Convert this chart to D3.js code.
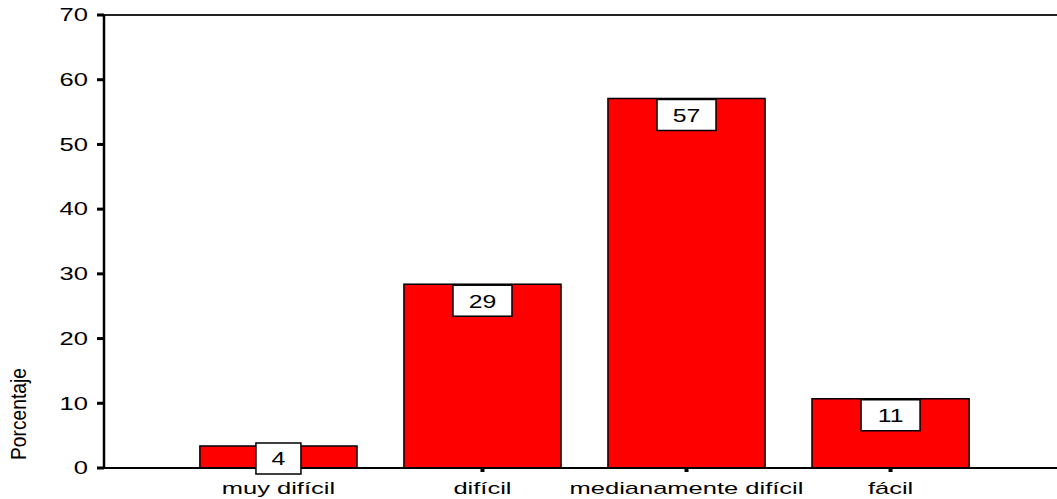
<!DOCTYPE html>
<html><head><meta charset="utf-8">
<script src="https://cdn.jsdelivr.net/npm/d3@7"></script>
<style>body{margin:0;background:#fff}svg{display:block}text{font-family:"Liberation Sans",Arial,sans-serif;fill:#000}</style>
</head><body><svg id="c" width="1057" height="499"></svg>
<script>
const categories = ["muy difícil", "difícil", "medianamente difícil", "fácil"];
const values = [3.4, 28.4, 57.1, 10.7];
const labels = ["4", "29", "57", "11"];
const yTicks = [0, 10, 20, 30, 40, 50, 60, 70];
const yTitle = "Porcentaje";

const svg = d3.select("#c");
const x0 = 104, yTop = 15, yBase = 468;
const y = d3.scaleLinear().domain([0, 70]).range([yBase, yTop]);
const x = d3.scaleBand().domain(categories).range([x0, 1065]).paddingInner(0.23).paddingOuter(0.47);

function stretch(sel, f){
  sel.each(function(){
    const w = this.getComputedTextLength();
    d3.select(this).attr("textLength", w*f).attr("lengthAdjust","spacingAndGlyphs");
  });
}

// bars
svg.selectAll("rect.bar").data(values).join("rect").attr("class","bar")
  .attr("x",(d,i)=>x(categories[i])).attr("width",x.bandwidth())
  .attr("y",d=>y(d)).attr("height",d=>yBase-y(d))
  .attr("fill","#ff0000").attr("stroke","#000").attr("stroke-width",1.5);

// frame lines
svg.append("line").attr("x1",x0).attr("x2",1057).attr("y1",yTop).attr("y2",yTop).attr("stroke","#222").attr("stroke-width",2);
svg.append("line").attr("x1",x0).attr("x2",1057).attr("y1",yBase).attr("y2",yBase).attr("stroke","#000").attr("stroke-width",2);
svg.append("line").attr("x1",x0).attr("x2",x0).attr("y1",yTop).attr("y2",yBase).attr("stroke","#000").attr("stroke-width",2.5);

// y ticks
const yt = svg.append("g");
yTicks.forEach(t=>{
  yt.append("rect").attr("x",x0-7).attr("y",y(t)-1.5).attr("width",7).attr("height",3).attr("fill","#000");
  const tx = yt.append("text").attr("x",88).attr("y",y(t)).attr("dy","0.35em").attr("text-anchor","end")
    .attr("font-size",18).text(t);
  stretch(tx,1.42);
});

// x ticks & labels
categories.forEach(c=>{
  const cx = x(c)+x.bandwidth()/2;
  svg.append("rect").attr("x",cx-2).attr("y",yBase).attr("width",4).attr("height",4).attr("fill","#000");
  const tx = svg.append("text").attr("x",cx).attr("y",494).attr("text-anchor","middle").attr("font-size",17).text(c);
  stretch(tx,1.5);
});

// value labels
values.forEach((v,i)=>{
  const cx = x(categories[i])+x.bandwidth()/2;
  const w = labels[i].length>1 ? 59 : 45;
  const top = Math.min(y(v), yBase-26);
  svg.append("rect").attr("x",cx-w/2).attr("y",top+1).attr("width",w).attr("height",31)
    .attr("fill","#fff").attr("stroke","#000").attr("stroke-width",1.5);
  const tx = svg.append("text").attr("x",cx).attr("y",top+17).attr("dy","0.35em").attr("text-anchor","middle")
    .attr("font-size",18).text(labels[i]);
  stretch(tx,1.38);
});

// y title
svg.append("text").attr("transform","translate(26,414) rotate(-90)").attr("text-anchor","middle")
  .attr("font-size",22).attr("textLength",92).attr("lengthAdjust","spacingAndGlyphs").text(yTitle);
</script></body></html>
